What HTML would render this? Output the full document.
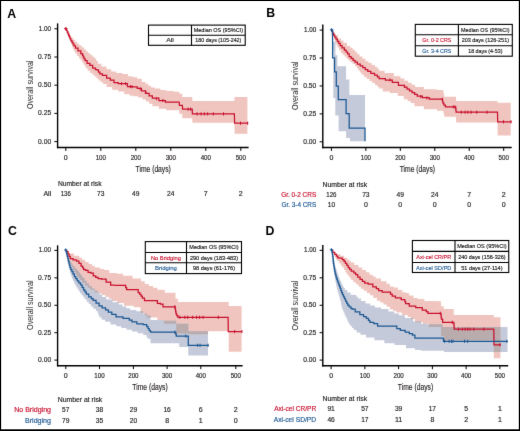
<!DOCTYPE html>
<html><head><meta charset="utf-8"><style>
html,body{margin:0;padding:0;background:#fff;}
body{width:520px;height:431px;overflow:hidden;font-family:"Liberation Sans",sans-serif;}
svg{display:block;}
#w{width:520px;height:431px;will-change:transform;}
</style></head><body><div id="w">
<svg width="520" height="431" viewBox="0 0 520 431" font-family="Liberation Sans, sans-serif">
<rect x="0" y="0" width="520" height="431" fill="#fff"/>
<defs><filter id="bl" x="0" y="0" width="520" height="431" filterUnits="userSpaceOnUse" color-interpolation-filters="sRGB"><feConvolveMatrix order="3" kernelMatrix="0.0052 0.0619 0.0052 0.0619 0.7314 0.0619 0.0052 0.0619 0.0052" edgeMode="duplicate"/></filter></defs>
<g filter="url(#bl)"><rect x="0" y="0" width="520" height="431" fill="#fff"/>
<text x="7.3" y="17.6" font-size="12.3" fill="#000" text-anchor="start" font-weight="bold">A</text>
<polygon points="66,28.8 67.15,28.8 67.15,31 68.3,31 68.88,31 68.88,33.17 70.05,33.17 70.05,35.33 71.22,35.33 71.22,37.5 71.8,37.5 72.83,37.5 72.83,39.6 74.88,39.6 74.88,41.7 75.9,41.7 76.95,41.7 76.95,43.45 79.05,43.45 79.05,45.2 80.1,45.2 81.5,45.2 81.5,47.3 82.9,47.3 83.95,47.3 83.95,49.4 86.05,49.4 86.05,51.5 87.1,51.5 88.15,51.5 88.15,53.25 90.25,53.25 90.25,55 91.3,55 92.33,55 92.33,56.7 94.38,56.7 94.38,58.4 95.4,58.4 96.23,58.4 96.23,61.05 97.88,61.05 97.88,63.7 98.7,63.7 101.5,63.7 101.5,66.5 104.3,66.5 106.6,66.5 106.6,69.3 108.9,69.3 111.25,69.3 111.25,71.6 113.6,71.6 116.35,71.6 116.35,73 119.1,73 122.35,73 122.35,73.9 125.6,73.9 127.95,73.9 127.95,76.2 130.3,76.2 132.65,76.2 132.65,77.2 135,77.2 137.2,77.2 137.2,78.7 139.4,78.7 141.8,78.7 141.8,81.9 144.2,81.9 145.57,81.9 145.57,83.8 148.3,83.8 148.3,85.7 151.03,85.7 151.03,87.6 152.4,87.6 154.8,87.6 154.8,88.4 157.2,88.4 160.45,88.4 160.45,90 163.7,90 166.15,90 166.15,90.9 168.6,90.9 173.9,90.9 173.9,91.7 179.2,91.7 179.4,93.8 182.2,93.8 182.4,97.1 192.2,97.1 192.4,101.1 234.4,101.1 234.6,97.1 247.4,97.1 247.4,133.7 234.6,133.7 234.4,122.8 192.4,122.8 192.2,118.2 182.4,118.2 182.2,114.1 179.4,114.1 179.2,110.3 168.6,110.3 166.15,110.3 166.15,108.7 163.7,108.7 158.85,108.7 158.85,106.3 154,106.3 152.38,106.3 152.38,103.85 149.12,103.85 149.12,101.4 147.5,101.4 145.88,101.4 145.88,99.4 142.62,99.4 142.62,97.4 141,97.4 138,97.4 138,96.2 135,96.2 133.55,96.2 133.55,95.7 132.1,95.7 129.8,95.7 129.8,94.3 127.5,94.3 124.25,94.3 124.25,91.6 121,91.6 118.2,91.6 118.2,89.7 115.4,89.7 112.15,89.7 112.15,86.9 108.9,86.9 106.6,86.9 106.6,84.1 104.3,84.1 103.12,84.1 103.12,82.25 100.77,82.25 100.77,80.4 99.6,80.4 98.55,80.4 98.55,78.5 96.45,78.5 96.45,76.6 95.4,76.6 94.38,76.6 94.38,74.85 92.33,74.85 92.33,73.1 91.3,73.1 90.08,73.1 90.08,70.65 87.62,70.65 87.62,68.2 86.4,68.2 85.82,68.2 85.82,66.33 84.65,66.33 84.65,64.47 83.48,64.47 83.48,62.6 82.9,62.6 82.2,62.6 82.2,60.5 80.8,60.5 80.8,58.4 80.1,58.4 79.05,58.4 79.05,56 76.95,56 76.95,53.6 75.9,53.6 75.2,53.6 75.2,51.15 73.8,51.15 73.8,48.7 73.1,48.7 72.76,48.7 72.76,46.78 72.09,46.78 72.09,44.85 71.41,44.85 71.41,42.92 70.74,42.92 70.74,41 70.4,41 69.93,41 69.93,38.93 69,38.93 69,36.87 68.07,36.87 68.07,34.8 67.6,34.8 67.33,34.8 67.33,32.8 66.8,32.8 66.8,30.8 66.27,30.8 66.27,28.8 66,28.8" fill="#f0c5bf" stroke="none"/>
<polyline points="66,28.8 66.4,28.8 66.4,30.4 67.2,30.4 67.2,32 67.6,32 67.95,32 67.95,33.75 68.65,33.75 68.65,35.5 69,35.5 69.35,35.5 69.35,37.2 70.05,37.2 70.05,38.9 70.4,38.9 70.93,38.9 70.93,40.65 71.97,40.65 71.97,42.4 72.5,42.4 73,42.4 73,44.15 74,44.15 74,45.9 74.5,45.9 75.55,45.9 75.55,48 76.6,48 78,48 78,50.8 79.4,50.8 80.8,50.8 80.8,53.6 82.2,53.6 82.55,53.6 82.55,55.35 83.25,55.35 83.25,57.1 83.6,57.1 84.12,57.1 84.12,58.8 85.17,58.8 85.17,60.5 85.7,60.5 87.1,60.5 87.1,63.3 88.5,63.3 89.9,63.3 89.9,65.4 91.3,65.4 92.7,65.4 92.7,68.2 94.1,68.2 95.45,68.2 95.45,69.6 96.8,69.6 97.3,69.6 97.3,70.2 97.8,70.2 98.5,70.2 98.5,72.05 99.9,72.05 99.9,73.9 100.6,73.9 102.45,73.9 102.45,75.3 104.3,75.3 106.6,75.3 106.6,78.1 108.9,78.1 110.3,78.1 110.3,80 111.7,80 114,80 114,82.7 116.3,82.7 118.2,82.7 118.2,83.7 120.1,83.7 125.6,83.7 127.45,83.7 127.45,86.5 129.3,86.5 132.15,86.5 132.15,86.9 135,86.9 137.2,86.9 137.2,88.4 139.4,88.4 141.43,88.4 141.43,90.85 145.47,90.85 145.47,93.3 147.5,93.3 149.12,93.3 149.12,95.75 152.38,95.75 152.38,98.2 154,98.2 158.85,98.2 158.85,100.6 163.7,100.6 165.35,100.6 165.35,102.2 167,102.2 179.2,102.2 179.4,105.3 182.4,105.3 182.6,109.2 192.2,109.2 192.4,113.9 234.4,113.9 234.6,123.2 248.2,123.2" fill="none" stroke="#c8102e" stroke-width="1.25" stroke-linejoin="miter"/>
<path d="M64.2 28.6H67.4M65.8 27V30.2" stroke="#c8102e" stroke-width="1.1" fill="none"/>
<line x1="188.1" y1="107.6" x2="188.1" y2="110.8" stroke="#c8102e" stroke-width="1"/>
<line x1="190.6" y1="107.6" x2="190.6" y2="110.8" stroke="#c8102e" stroke-width="1"/>
<line x1="121.5" y1="82.2" x2="121.5" y2="85.2" stroke="#c8102e" stroke-width="1"/>
<line x1="125.6" y1="82.2" x2="125.6" y2="85.2" stroke="#c8102e" stroke-width="1"/>
<line x1="130.4" y1="85.08" x2="130.4" y2="88.08" stroke="#c8102e" stroke-width="1"/>
<line x1="132" y1="85.19" x2="132" y2="88.19" stroke="#c8102e" stroke-width="1"/>
<line x1="140.2" y1="87.38" x2="140.2" y2="90.38" stroke="#c8102e" stroke-width="1"/>
<line x1="145.9" y1="90.83" x2="145.9" y2="93.83" stroke="#c8102e" stroke-width="1"/>
<line x1="156.4" y1="97.29" x2="156.4" y2="100.29" stroke="#c8102e" stroke-width="1"/>
<line x1="162.9" y1="98.9" x2="162.9" y2="101.9" stroke="#c8102e" stroke-width="1"/>
<line x1="197" y1="112.3" x2="197" y2="115.5" stroke="#c8102e" stroke-width="1"/>
<line x1="201.1" y1="112.3" x2="201.1" y2="115.5" stroke="#c8102e" stroke-width="1"/>
<line x1="204.4" y1="112.3" x2="204.4" y2="115.5" stroke="#c8102e" stroke-width="1"/>
<line x1="207.6" y1="112.3" x2="207.6" y2="115.5" stroke="#c8102e" stroke-width="1"/>
<line x1="213.3" y1="112.3" x2="213.3" y2="115.5" stroke="#c8102e" stroke-width="1"/>
<line x1="223.5" y1="112.3" x2="223.5" y2="115.5" stroke="#c8102e" stroke-width="1"/>
<line x1="240.5" y1="121.6" x2="240.5" y2="124.8" stroke="#c8102e" stroke-width="1"/>
<line x1="247.6" y1="121.6" x2="247.6" y2="124.8" stroke="#c8102e" stroke-width="1"/>
<line x1="57.6" y1="23.4" x2="57.6" y2="148.15" stroke="#000" stroke-width="1.4"/>
<line x1="56.95" y1="147.5" x2="248.6" y2="147.5" stroke="#000" stroke-width="1.4"/>
<line x1="54.4" y1="28.8" x2="57.6" y2="28.8" stroke="#000" stroke-width="1"/>
<text x="51.1" y="30.7" font-size="7" fill="#231f20" text-anchor="end" font-weight="normal" textLength="12.3" lengthAdjust="spacingAndGlyphs" stroke="#231f20" stroke-width="0.17">1.00</text>
<line x1="54.4" y1="57" x2="57.6" y2="57" stroke="#000" stroke-width="1"/>
<text x="51.1" y="58.9" font-size="7" fill="#231f20" text-anchor="end" font-weight="normal" textLength="13" lengthAdjust="spacingAndGlyphs" stroke="#231f20" stroke-width="0.17">0.75</text>
<line x1="54.4" y1="85.2" x2="57.6" y2="85.2" stroke="#000" stroke-width="1"/>
<text x="51.1" y="87.1" font-size="7" fill="#231f20" text-anchor="end" font-weight="normal" textLength="13" lengthAdjust="spacingAndGlyphs" stroke="#231f20" stroke-width="0.17">0.50</text>
<line x1="54.4" y1="113.4" x2="57.6" y2="113.4" stroke="#000" stroke-width="1"/>
<text x="51.1" y="115.3" font-size="7" fill="#231f20" text-anchor="end" font-weight="normal" textLength="13" lengthAdjust="spacingAndGlyphs" stroke="#231f20" stroke-width="0.17">0.25</text>
<line x1="54.4" y1="141.6" x2="57.6" y2="141.6" stroke="#000" stroke-width="1"/>
<text x="51.1" y="143.5" font-size="7" fill="#231f20" text-anchor="end" font-weight="normal" textLength="13" lengthAdjust="spacingAndGlyphs" stroke="#231f20" stroke-width="0.17">0.00</text>
<line x1="65.8" y1="147.5" x2="65.8" y2="150.9" stroke="#000" stroke-width="1"/>
<text x="65.8" y="159.7" font-size="7" fill="#231f20" text-anchor="middle" font-weight="normal" stroke="#231f20" stroke-width="0.17">0</text>
<line x1="100.8" y1="147.5" x2="100.8" y2="150.9" stroke="#000" stroke-width="1"/>
<text x="100.8" y="159.7" font-size="7" fill="#231f20" text-anchor="middle" font-weight="normal" textLength="10.3" lengthAdjust="spacingAndGlyphs" stroke="#231f20" stroke-width="0.17">100</text>
<line x1="135.8" y1="147.5" x2="135.8" y2="150.9" stroke="#000" stroke-width="1"/>
<text x="135.8" y="159.7" font-size="7" fill="#231f20" text-anchor="middle" font-weight="normal" textLength="10.3" lengthAdjust="spacingAndGlyphs" stroke="#231f20" stroke-width="0.17">200</text>
<line x1="170.8" y1="147.5" x2="170.8" y2="150.9" stroke="#000" stroke-width="1"/>
<text x="170.8" y="159.7" font-size="7" fill="#231f20" text-anchor="middle" font-weight="normal" textLength="10.3" lengthAdjust="spacingAndGlyphs" stroke="#231f20" stroke-width="0.17">300</text>
<line x1="205.8" y1="147.5" x2="205.8" y2="150.9" stroke="#000" stroke-width="1"/>
<text x="205.8" y="159.7" font-size="7" fill="#231f20" text-anchor="middle" font-weight="normal" textLength="10.3" lengthAdjust="spacingAndGlyphs" stroke="#231f20" stroke-width="0.17">400</text>
<line x1="240.8" y1="147.5" x2="240.8" y2="150.9" stroke="#000" stroke-width="1"/>
<text x="240.8" y="159.7" font-size="7" fill="#231f20" text-anchor="middle" font-weight="normal" textLength="10.3" lengthAdjust="spacingAndGlyphs" stroke="#231f20" stroke-width="0.17">500</text>
<text transform="translate(32.9,84.8) rotate(-90)" font-size="9.3" fill="#231f20" text-anchor="middle" textLength="48.5" lengthAdjust="spacingAndGlyphs">Overall survival</text>
<text x="153.2" y="172" font-size="9.3" fill="#231f20" text-anchor="middle" font-weight="normal" textLength="35.3" lengthAdjust="spacingAndGlyphs" stroke="#231f20" stroke-width="0.17">Time (days)</text>
<rect x="148.5" y="25.1" width="96.7" height="20.2" fill="#fff" stroke="#000" stroke-width="1.1"/>
<line x1="148.5" y1="35.3" x2="245.2" y2="35.3" stroke="#000" stroke-width="1.1"/>
<line x1="191.5" y1="25.1" x2="191.5" y2="45.3" stroke="#000" stroke-width="1.1"/>
<text x="218.35" y="32.35" font-size="5.9" fill="#111" text-anchor="middle" font-weight="normal" textLength="49.3" lengthAdjust="spacingAndGlyphs" stroke="#111" stroke-width="0.14">Median OS (95%CI)</text>
<text x="170" y="42.45" font-size="5.9" fill="#231f20" text-anchor="middle" font-weight="normal" textLength="7.6" lengthAdjust="spacingAndGlyphs" stroke="#231f20" stroke-width="0.14">All</text>
<text x="218.35" y="42.45" font-size="5.9" fill="#111" text-anchor="middle" font-weight="normal" textLength="46" lengthAdjust="spacingAndGlyphs" stroke="#111" stroke-width="0.14">180 days (105-242)</text>
<text x="57.9" y="186.1" font-size="6.8" fill="#231f20" text-anchor="start" font-weight="normal" textLength="43.6" lengthAdjust="spacingAndGlyphs" stroke="#231f20" stroke-width="0.17">Number at risk</text>
<text x="51.2" y="196.4" font-size="7" fill="#231f20" text-anchor="end" font-weight="normal" textLength="7.8" lengthAdjust="spacingAndGlyphs" stroke="#231f20" stroke-width="0.17">All</text>
<text x="65.8" y="196.4" font-size="7" fill="#231f20" text-anchor="middle" font-weight="normal" textLength="10.2" lengthAdjust="spacingAndGlyphs" stroke="#231f20" stroke-width="0.17">136</text>
<text x="100.8" y="196.4" font-size="7" fill="#231f20" text-anchor="middle" font-weight="normal" textLength="7.4" lengthAdjust="spacingAndGlyphs" stroke="#231f20" stroke-width="0.17">73</text>
<text x="135.8" y="196.4" font-size="7" fill="#231f20" text-anchor="middle" font-weight="normal" textLength="7.4" lengthAdjust="spacingAndGlyphs" stroke="#231f20" stroke-width="0.17">49</text>
<text x="170.8" y="196.4" font-size="7" fill="#231f20" text-anchor="middle" font-weight="normal" textLength="7.4" lengthAdjust="spacingAndGlyphs" stroke="#231f20" stroke-width="0.17">24</text>
<text x="205.8" y="196.4" font-size="7" fill="#231f20" text-anchor="middle" font-weight="normal" stroke="#231f20" stroke-width="0.17">7</text>
<text x="240.8" y="196.4" font-size="7" fill="#231f20" text-anchor="middle" font-weight="normal" stroke="#231f20" stroke-width="0.17">2</text>
<text x="266.3" y="17.4" font-size="12.3" fill="#000" text-anchor="start" font-weight="bold">B</text>
<polygon points="331.3,30.1 331.9,30.1 331.9,30.6 332.5,30.6 333.43,30.6 333.43,32.95 335.27,32.95 335.27,35.3 336.2,35.3 338.05,35.3 338.05,38.5 339.9,38.5 341.07,38.5 341.07,40.6 343.43,40.6 343.43,42.7 344.6,42.7 346.9,42.7 346.9,46 349.2,46 350.38,46 350.38,47.85 352.72,47.85 352.72,49.7 353.9,49.7 354.9,49.7 354.9,51.85 356.9,51.85 356.9,54 357.9,54 359.43,54 359.43,56.4 362.5,56.4 362.5,58.8 365.57,58.8 365.57,61.2 367.1,61.2 368.65,61.2 368.65,63.07 371.75,63.07 371.75,64.93 374.85,64.93 374.85,66.8 376.4,66.8 377.3,66.8 377.3,68.8 379.1,68.8 379.1,70.8 380,70.8 384.6,70.8 384.6,73.1 389.2,73.1 393.85,73.1 393.85,76.2 398.5,76.2 400.43,76.2 400.43,78.5 404.27,78.5 404.27,80.8 406.2,80.8 407.98,80.8 407.98,82.83 411.55,82.83 411.55,84.87 415.12,84.87 415.12,86.9 416.9,86.9 423.85,86.9 423.85,89.2 430.8,89.2 436.95,89.2 436.95,90 443.1,90 443.33,90 443.33,92.27 443.8,92.27 443.8,94.53 444.27,94.53 444.27,96.8 444.5,96.8 456,96.8 456.2,101.1 497.5,101.1 497.7,102.7 510.7,102.7 510.7,135.4 497.7,135.4 497.5,122.4 456.2,122.4 456,116.8 444.6,116.8 444.35,116.8 444.35,114.8 443.85,114.8 443.85,112.8 443.35,112.8 443.35,110.8 443.1,110.8 436.95,110.8 436.95,109.2 430.8,109.2 423.85,109.2 423.85,106.2 416.9,106.2 414.45,106.2 414.45,103 412,103 410.55,103 410.55,101.1 407.65,101.1 407.65,99.2 406.2,99.2 403.85,99.2 403.85,96 401.5,96 397.65,96 397.65,93.1 393.8,93.1 389.75,93.1 389.75,91.5 385.7,91.5 382.85,91.5 382.85,88.5 380,88.5 379.1,88.5 379.1,86.75 377.3,86.75 377.3,85 376.4,85 375.01,85 375.01,83 372.24,83 372.24,81 369.46,81 369.46,79 366.69,79 366.69,77 365.3,77 364.1,77 364.1,74.75 361.7,74.75 361.7,72.5 360.5,72.5 359.75,72.5 359.75,70.33 358.25,70.33 358.25,68.17 356.75,68.17 356.75,66 356,66 354.95,66 354.95,64.1 353.9,64.1 352.72,64.1 352.72,62.25 350.38,62.25 350.38,60.4 349.2,60.4 348.27,60.4 348.27,58.5 346.43,58.5 346.43,56.6 345.5,56.6 344.57,56.6 344.57,54.75 342.73,54.75 342.73,52.9 341.8,52.9 340.88,52.9 340.88,50.15 339.03,50.15 339.03,47.4 338.1,47.4 337.63,47.4 337.63,45.53 336.7,45.53 336.7,43.67 335.77,43.67 335.77,41.8 335.3,41.8 335.02,41.8 335.02,39.63 334.45,39.63 334.45,37.47 333.88,37.47 333.88,35.3 333.6,35.3 333.4,35.3 333.4,33 333.2,33 332.25,33 332.25,30.1 331.3,30.1" fill="#f0c5bf" stroke="none"/>
<polygon points="331.3,30.1 332.6,30.1 332.8,41.8 335.6,41.8 335.4,55.2 337.4,55.2 337.4,66.3 346.1,66.3 346.1,79.5 349.3,79.5 349.3,95.1 365,95.1 365,141.2 365,141.2 349.9,141.2 349.9,138.1 346.1,138.1 346.1,131.3 338.6,131.3 338.6,115.5 335.3,115.5 335.3,98 333.3,98 333.3,50 332.4,50 332.34,50 332.34,47.79 332.22,47.79 332.22,45.58 332.09,45.58 332.09,43.37 331.97,43.37 331.97,41.16 331.85,41.16 331.85,38.94 331.73,38.94 331.73,36.73 331.61,36.73 331.61,34.52 331.48,34.52 331.48,32.31 331.36,32.31 331.36,30.1 331.3,30.1" fill="#c4cada" stroke="none"/>
<clipPath id="clp1"><polygon points="331.3,30.1 331.9,30.1 331.9,30.6 332.5,30.6 333.43,30.6 333.43,32.95 335.27,32.95 335.27,35.3 336.2,35.3 338.05,35.3 338.05,38.5 339.9,38.5 341.07,38.5 341.07,40.6 343.43,40.6 343.43,42.7 344.6,42.7 346.9,42.7 346.9,46 349.2,46 350.38,46 350.38,47.85 352.72,47.85 352.72,49.7 353.9,49.7 354.9,49.7 354.9,51.85 356.9,51.85 356.9,54 357.9,54 359.43,54 359.43,56.4 362.5,56.4 362.5,58.8 365.57,58.8 365.57,61.2 367.1,61.2 368.65,61.2 368.65,63.07 371.75,63.07 371.75,64.93 374.85,64.93 374.85,66.8 376.4,66.8 377.3,66.8 377.3,68.8 379.1,68.8 379.1,70.8 380,70.8 384.6,70.8 384.6,73.1 389.2,73.1 393.85,73.1 393.85,76.2 398.5,76.2 400.43,76.2 400.43,78.5 404.27,78.5 404.27,80.8 406.2,80.8 407.98,80.8 407.98,82.83 411.55,82.83 411.55,84.87 415.12,84.87 415.12,86.9 416.9,86.9 423.85,86.9 423.85,89.2 430.8,89.2 436.95,89.2 436.95,90 443.1,90 443.33,90 443.33,92.27 443.8,92.27 443.8,94.53 444.27,94.53 444.27,96.8 444.5,96.8 456,96.8 456.2,101.1 497.5,101.1 497.7,102.7 510.7,102.7 510.7,135.4 497.7,135.4 497.5,122.4 456.2,122.4 456,116.8 444.6,116.8 444.35,116.8 444.35,114.8 443.85,114.8 443.85,112.8 443.35,112.8 443.35,110.8 443.1,110.8 436.95,110.8 436.95,109.2 430.8,109.2 423.85,109.2 423.85,106.2 416.9,106.2 414.45,106.2 414.45,103 412,103 410.55,103 410.55,101.1 407.65,101.1 407.65,99.2 406.2,99.2 403.85,99.2 403.85,96 401.5,96 397.65,96 397.65,93.1 393.8,93.1 389.75,93.1 389.75,91.5 385.7,91.5 382.85,91.5 382.85,88.5 380,88.5 379.1,88.5 379.1,86.75 377.3,86.75 377.3,85 376.4,85 375.01,85 375.01,83 372.24,83 372.24,81 369.46,81 369.46,79 366.69,79 366.69,77 365.3,77 364.1,77 364.1,74.75 361.7,74.75 361.7,72.5 360.5,72.5 359.75,72.5 359.75,70.33 358.25,70.33 358.25,68.17 356.75,68.17 356.75,66 356,66 354.95,66 354.95,64.1 353.9,64.1 352.72,64.1 352.72,62.25 350.38,62.25 350.38,60.4 349.2,60.4 348.27,60.4 348.27,58.5 346.43,58.5 346.43,56.6 345.5,56.6 344.57,56.6 344.57,54.75 342.73,54.75 342.73,52.9 341.8,52.9 340.88,52.9 340.88,50.15 339.03,50.15 339.03,47.4 338.1,47.4 337.63,47.4 337.63,45.53 336.7,45.53 336.7,43.67 335.77,43.67 335.77,41.8 335.3,41.8 335.02,41.8 335.02,39.63 334.45,39.63 334.45,37.47 333.88,37.47 333.88,35.3 333.6,35.3 333.4,35.3 333.4,33 333.2,33 332.25,33 332.25,30.1 331.3,30.1"/></clipPath>
<polygon points="331.3,30.1 332.6,30.1 332.8,41.8 335.6,41.8 335.4,55.2 337.4,55.2 337.4,66.3 346.1,66.3 346.1,79.5 349.3,79.5 349.3,95.1 365,95.1 365,141.2 365,141.2 349.9,141.2 349.9,138.1 346.1,138.1 346.1,131.3 338.6,131.3 338.6,115.5 335.3,115.5 335.3,98 333.3,98 333.3,50 332.4,50 332.34,50 332.34,47.79 332.22,47.79 332.22,45.58 332.09,45.58 332.09,43.37 331.97,43.37 331.97,41.16 331.85,41.16 331.85,38.94 331.73,38.94 331.73,36.73 331.61,36.73 331.61,34.52 331.48,34.52 331.48,32.31 331.36,32.31 331.36,30.1 331.3,30.1" fill="#baabad" clip-path="url(#clp1)"/>
<polyline points="331.3,30.1 331.65,30.1 331.65,31.1 332,31.1 332.55,31.1 332.55,33.1 333.65,33.1 333.65,35.1 334.75,35.1 334.75,37.1 335.3,37.1 336,37.1 336,39.2 337.4,39.2 337.4,41.3 338.8,41.3 338.8,43.4 340.2,43.4 340.2,45.5 340.9,45.5 342.05,45.5 342.05,47.8 344.35,47.8 344.35,50.1 345.5,50.1 346.2,50.1 346.2,52 347.6,52 347.6,53.9 348.3,53.9 349.2,53.9 349.2,56.6 350.1,56.6 351.08,56.6 351.08,58.47 353.05,58.47 353.05,60.33 355.02,60.33 355.02,62.2 356,62.2 357.4,62.2 357.4,64 360.2,64 360.2,65.8 361.6,65.8 362.83,65.8 362.83,67.67 365.3,67.67 365.3,69.53 367.77,69.53 367.77,71.4 369,71.4 370.85,71.4 370.85,73.25 374.55,73.25 374.55,75.1 376.4,75.1 377.3,75.1 377.3,76.8 379.1,76.8 379.1,78.5 380,78.5 385.4,78.5 385.4,80 390.8,80 392.3,80 392.3,82.3 393.8,82.3 398.45,82.3 398.45,85.4 403.1,85.4 404.38,85.4 404.38,87.2 406.95,87.2 406.95,89 409.52,89 409.52,90.8 410.8,90.8 412.08,90.8 412.08,92.6 414.65,92.6 414.65,94.4 417.22,94.4 417.22,96.2 418.5,96.2 422.35,96.2 422.35,97.7 426.2,97.7 429.25,97.7 429.25,99.2 432.3,99.2 442.3,99.2 442.5,99.2 442.5,101.15 442.9,101.15 442.9,103.1 443.1,103.1 443.88,103.1 443.88,105 445.43,105 445.43,106.9 446.2,106.9 455.6,106.9 455.7,106.9 455.7,108.67 455.9,108.67 455.9,110.43 456.1,110.43 456.1,112.2 456.2,112.2 497.5,112.2 497.7,121.8 511.5,121.8" fill="none" stroke="#c8102e" stroke-width="1.25" stroke-linejoin="miter"/>
<polyline points="331.3,30.1 332.6,30.1 332.6,57.9 334.6,57.9 334.6,71.8 336.3,71.8 336.3,86 338.3,86 338.3,99.6 346.1,99.6 346.1,113.5 349.2,113.5 349.2,128 365,128 365,141.2" fill="none" stroke="#1b5791" stroke-width="1.25" stroke-linejoin="miter"/>
<path d="M329.9 29.8H333.1M331.5 28.2V31.4" stroke="#1b5791" stroke-width="1.1" fill="none"/>
<line x1="390" y1="78.39" x2="390" y2="81.39" stroke="#c8102e" stroke-width="1"/>
<line x1="404.6" y1="84.95" x2="404.6" y2="87.95" stroke="#c8102e" stroke-width="1"/>
<line x1="420.8" y1="95.15" x2="420.8" y2="98.15" stroke="#c8102e" stroke-width="1"/>
<line x1="426.9" y1="96.37" x2="426.9" y2="99.37" stroke="#c8102e" stroke-width="1"/>
<line x1="442.3" y1="97.7" x2="442.3" y2="100.7" stroke="#c8102e" stroke-width="1"/>
<line x1="453.3" y1="105.4" x2="453.3" y2="108.4" stroke="#c8102e" stroke-width="1"/>
<line x1="454.8" y1="105.4" x2="454.8" y2="108.4" stroke="#c8102e" stroke-width="1"/>
<line x1="461.3" y1="110.6" x2="461.3" y2="113.8" stroke="#c8102e" stroke-width="1"/>
<line x1="465.1" y1="110.6" x2="465.1" y2="113.8" stroke="#c8102e" stroke-width="1"/>
<line x1="467.8" y1="110.6" x2="467.8" y2="113.8" stroke="#c8102e" stroke-width="1"/>
<line x1="471.1" y1="110.6" x2="471.1" y2="113.8" stroke="#c8102e" stroke-width="1"/>
<line x1="476.8" y1="110.6" x2="476.8" y2="113.8" stroke="#c8102e" stroke-width="1"/>
<line x1="487.1" y1="110.6" x2="487.1" y2="113.8" stroke="#c8102e" stroke-width="1"/>
<line x1="503.5" y1="120.2" x2="503.5" y2="123.4" stroke="#c8102e" stroke-width="1"/>
<line x1="511" y1="120.2" x2="511" y2="123.4" stroke="#c8102e" stroke-width="1"/>
<line x1="322.8" y1="24.6" x2="322.8" y2="148.2" stroke="#000" stroke-width="1.4"/>
<line x1="322.15" y1="147.55" x2="511.7" y2="147.55" stroke="#000" stroke-width="1.4"/>
<line x1="319.6" y1="30.1" x2="322.8" y2="30.1" stroke="#000" stroke-width="1"/>
<text x="316.3" y="32" font-size="7" fill="#231f20" text-anchor="end" font-weight="normal" textLength="12.3" lengthAdjust="spacingAndGlyphs" stroke="#231f20" stroke-width="0.17">1.00</text>
<line x1="319.6" y1="58.03" x2="322.8" y2="58.03" stroke="#000" stroke-width="1"/>
<text x="316.3" y="59.93" font-size="7" fill="#231f20" text-anchor="end" font-weight="normal" textLength="13" lengthAdjust="spacingAndGlyphs" stroke="#231f20" stroke-width="0.17">0.75</text>
<line x1="319.6" y1="85.95" x2="322.8" y2="85.95" stroke="#000" stroke-width="1"/>
<text x="316.3" y="87.85" font-size="7" fill="#231f20" text-anchor="end" font-weight="normal" textLength="13" lengthAdjust="spacingAndGlyphs" stroke="#231f20" stroke-width="0.17">0.50</text>
<line x1="319.6" y1="113.88" x2="322.8" y2="113.88" stroke="#000" stroke-width="1"/>
<text x="316.3" y="115.78" font-size="7" fill="#231f20" text-anchor="end" font-weight="normal" textLength="13" lengthAdjust="spacingAndGlyphs" stroke="#231f20" stroke-width="0.17">0.25</text>
<line x1="319.6" y1="141.8" x2="322.8" y2="141.8" stroke="#000" stroke-width="1"/>
<text x="316.3" y="143.7" font-size="7" fill="#231f20" text-anchor="end" font-weight="normal" textLength="13" lengthAdjust="spacingAndGlyphs" stroke="#231f20" stroke-width="0.17">0.00</text>
<line x1="331.4" y1="147.55" x2="331.4" y2="150.95" stroke="#000" stroke-width="1"/>
<text x="331.4" y="159.8" font-size="7" fill="#231f20" text-anchor="middle" font-weight="normal" stroke="#231f20" stroke-width="0.17">0</text>
<line x1="365.86" y1="147.55" x2="365.86" y2="150.95" stroke="#000" stroke-width="1"/>
<text x="365.86" y="159.8" font-size="7" fill="#231f20" text-anchor="middle" font-weight="normal" textLength="10.3" lengthAdjust="spacingAndGlyphs" stroke="#231f20" stroke-width="0.17">100</text>
<line x1="400.32" y1="147.55" x2="400.32" y2="150.95" stroke="#000" stroke-width="1"/>
<text x="400.32" y="159.8" font-size="7" fill="#231f20" text-anchor="middle" font-weight="normal" textLength="10.3" lengthAdjust="spacingAndGlyphs" stroke="#231f20" stroke-width="0.17">200</text>
<line x1="434.78" y1="147.55" x2="434.78" y2="150.95" stroke="#000" stroke-width="1"/>
<text x="434.78" y="159.8" font-size="7" fill="#231f20" text-anchor="middle" font-weight="normal" textLength="10.3" lengthAdjust="spacingAndGlyphs" stroke="#231f20" stroke-width="0.17">300</text>
<line x1="469.24" y1="147.55" x2="469.24" y2="150.95" stroke="#000" stroke-width="1"/>
<text x="469.24" y="159.8" font-size="7" fill="#231f20" text-anchor="middle" font-weight="normal" textLength="10.3" lengthAdjust="spacingAndGlyphs" stroke="#231f20" stroke-width="0.17">400</text>
<line x1="503.7" y1="147.55" x2="503.7" y2="150.95" stroke="#000" stroke-width="1"/>
<text x="503.7" y="159.8" font-size="7" fill="#231f20" text-anchor="middle" font-weight="normal" textLength="10.3" lengthAdjust="spacingAndGlyphs" stroke="#231f20" stroke-width="0.17">500</text>
<text transform="translate(298,85.8) rotate(-90)" font-size="9.3" fill="#231f20" text-anchor="middle" textLength="48.5" lengthAdjust="spacingAndGlyphs">Overall survival</text>
<text x="417.4" y="172" font-size="9.3" fill="#231f20" text-anchor="middle" font-weight="normal" textLength="35.3" lengthAdjust="spacingAndGlyphs" stroke="#231f20" stroke-width="0.17">Time (days)</text>
<rect x="415.3" y="24.4" width="97" height="31.8" fill="#fff" stroke="#000" stroke-width="1.1"/>
<line x1="415.3" y1="34.8" x2="512.3" y2="34.8" stroke="#000" stroke-width="1.1"/>
<line x1="415.3" y1="45.7" x2="512.3" y2="45.7" stroke="#000" stroke-width="1.1"/>
<line x1="458.4" y1="24.4" x2="458.4" y2="56.2" stroke="#000" stroke-width="1.1"/>
<text x="485.35" y="31.75" font-size="5.9" fill="#111" text-anchor="middle" font-weight="normal" textLength="48.5" lengthAdjust="spacingAndGlyphs" stroke="#111" stroke-width="0.14">Median OS (95%CI)</text>
<text x="436.85" y="42.4" font-size="5.9" fill="#c8102e" text-anchor="middle" font-weight="normal" textLength="29.1" lengthAdjust="spacingAndGlyphs" stroke="#c8102e" stroke-width="0.14">Gr. 0-2 CRS</text>
<text x="485.35" y="42.4" font-size="5.9" fill="#111" text-anchor="middle" font-weight="normal" textLength="47.3" lengthAdjust="spacingAndGlyphs" stroke="#111" stroke-width="0.14">203 days (126-251)</text>
<text x="436.85" y="53.1" font-size="5.9" fill="#1b5791" text-anchor="middle" font-weight="normal" textLength="29.1" lengthAdjust="spacingAndGlyphs" stroke="#1b5791" stroke-width="0.14">Gr. 3-4 CRS</text>
<text x="485.35" y="53.1" font-size="5.9" fill="#111" text-anchor="middle" font-weight="normal" textLength="34.2" lengthAdjust="spacingAndGlyphs" stroke="#111" stroke-width="0.14">18 days (4-53)</text>
<text x="322.5" y="186.6" font-size="6.8" fill="#231f20" text-anchor="start" font-weight="normal" textLength="44.6" lengthAdjust="spacingAndGlyphs" stroke="#231f20" stroke-width="0.17">Number at risk</text>
<text x="316.2" y="196.8" font-size="7" fill="#c8102e" text-anchor="end" font-weight="normal" textLength="35" lengthAdjust="spacingAndGlyphs" stroke="#c8102e" stroke-width="0.17">Gr. 0-2 CRS</text>
<text x="316.2" y="207.4" font-size="7" fill="#1b5791" text-anchor="end" font-weight="normal" textLength="34.7" lengthAdjust="spacingAndGlyphs" stroke="#1b5791" stroke-width="0.17">Gr. 3-4 CRS</text>
<text x="331.4" y="196.8" font-size="7" fill="#231f20" text-anchor="middle" font-weight="normal" textLength="10.2" lengthAdjust="spacingAndGlyphs" stroke="#231f20" stroke-width="0.17">126</text>
<text x="331.4" y="207.4" font-size="7" fill="#231f20" text-anchor="middle" font-weight="normal" textLength="7.4" lengthAdjust="spacingAndGlyphs" stroke="#231f20" stroke-width="0.17">10</text>
<text x="365.86" y="196.8" font-size="7" fill="#231f20" text-anchor="middle" font-weight="normal" textLength="7.4" lengthAdjust="spacingAndGlyphs" stroke="#231f20" stroke-width="0.17">73</text>
<text x="365.86" y="207.4" font-size="7" fill="#231f20" text-anchor="middle" font-weight="normal" stroke="#231f20" stroke-width="0.17">0</text>
<text x="400.32" y="196.8" font-size="7" fill="#231f20" text-anchor="middle" font-weight="normal" textLength="7.4" lengthAdjust="spacingAndGlyphs" stroke="#231f20" stroke-width="0.17">49</text>
<text x="400.32" y="207.4" font-size="7" fill="#231f20" text-anchor="middle" font-weight="normal" stroke="#231f20" stroke-width="0.17">0</text>
<text x="434.78" y="196.8" font-size="7" fill="#231f20" text-anchor="middle" font-weight="normal" textLength="7.4" lengthAdjust="spacingAndGlyphs" stroke="#231f20" stroke-width="0.17">24</text>
<text x="434.78" y="207.4" font-size="7" fill="#231f20" text-anchor="middle" font-weight="normal" stroke="#231f20" stroke-width="0.17">0</text>
<text x="469.24" y="196.8" font-size="7" fill="#231f20" text-anchor="middle" font-weight="normal" stroke="#231f20" stroke-width="0.17">7</text>
<text x="469.24" y="207.4" font-size="7" fill="#231f20" text-anchor="middle" font-weight="normal" stroke="#231f20" stroke-width="0.17">0</text>
<text x="503.7" y="196.8" font-size="7" fill="#231f20" text-anchor="middle" font-weight="normal" stroke="#231f20" stroke-width="0.17">2</text>
<text x="503.7" y="207.4" font-size="7" fill="#231f20" text-anchor="middle" font-weight="normal" stroke="#231f20" stroke-width="0.17">0</text>
<text x="7.9" y="235.2" font-size="12.3" fill="#000" text-anchor="start" font-weight="bold">C</text>
<polygon points="65.6,250.4 67.95,250.4 67.95,253.6 70.3,253.6 74.1,253.6 74.1,255.7 77.9,255.7 79.3,255.7 79.3,257.75 82.1,257.75 82.1,259.8 83.5,259.8 85.25,259.8 85.25,261.9 88.75,261.9 88.75,264 90.5,264 91.9,264 91.9,265.75 94.7,265.75 94.7,267.5 96.1,267.5 100.05,267.5 100.05,268.9 104,268.9 104.3,268.9 104.3,270.1 104.6,270.1 109.25,270.1 109.25,272.9 113.9,272.9 116.95,272.9 116.95,273.8 120,273.8 123.05,273.8 123.05,275.8 126.1,275.8 132.6,275.8 132.6,278.6 139.1,278.6 140.97,278.6 140.97,281.35 144.72,281.35 144.72,284.1 146.6,284.1 148.77,284.1 148.77,285.97 153.1,285.97 153.1,287.83 157.43,287.83 157.43,289.7 159.6,289.7 164.8,289.7 164.8,292.8 170,292.8 175.5,292.8 175.5,298.7 177.9,298.7 177.9,302.1 228.7,302.1 228.7,306 241.6,306 241.6,351.8 228.7,351.8 228.7,331.2 208,331.2 208,334.2 188.3,334.2 188.3,333.5 176.2,333.5 176.2,323.7 164.1,323.7 164.1,319.9 157.4,319.9 157.4,317.6 147.5,317.6 146.57,317.6 146.57,315.3 144.73,315.3 144.73,313 143.8,313 142.2,313 142.2,312.4 140.6,312.4 140.4,307.2 133.8,307.2 133.8,305.8 127.2,305.8 124.05,305.8 124.05,303 120.9,303 117.4,303 117.4,300.9 113.9,300.9 112.18,300.9 112.18,298.8 108.72,298.8 108.72,296.7 107,296.7 105.25,296.7 105.25,294.95 101.75,294.95 101.75,293.2 100,293.2 98.7,293.2 98.7,292.6 97.4,292.6 94.65,292.6 94.65,289.8 91.9,289.8 90.5,289.8 90.5,287.7 87.7,287.7 87.7,285.6 86.3,285.6 84.9,285.6 84.9,282.85 82.1,282.85 82.1,280.1 80.7,280.1 80,280.1 80,278.23 78.6,278.23 78.6,276.37 77.2,276.37 77.2,274.5 76.5,274.5 75.82,274.5 75.82,272.17 74.45,272.17 74.45,269.83 73.08,269.83 73.08,267.5 72.4,267.5 71.93,267.5 71.93,265.63 71,265.63 71,263.77 70.07,263.77 70.07,261.9 69.6,261.9 69.25,261.9 69.25,259.6 68.55,259.6 68.55,257.3 67.85,257.3 67.85,255 67.5,255 67.03,255 67.03,252.7 66.07,252.7 66.07,250.4 65.6,250.4" fill="#f0c5bf" stroke="none"/>
<polygon points="65.6,250.4 66.2,250.4 66.2,252.2 66.8,252.2 67.15,252.2 67.15,254.27 67.85,254.27 67.85,256.35 68.55,256.35 68.55,258.43 69.25,258.43 69.25,260.5 69.6,260.5 70.3,260.5 70.3,262.6 71.7,262.6 71.7,264.7 72.4,264.7 73.25,264.7 73.25,266.45 74.95,266.45 74.95,268.2 75.8,268.2 76.67,268.2 76.67,270.3 78.42,270.3 78.42,272.4 79.3,272.4 80,272.4 80,274.27 81.4,274.27 81.4,276.13 82.8,276.13 82.8,278 83.5,278 84.55,278 84.55,280.75 86.65,280.75 86.65,283.5 87.7,283.5 89.1,283.5 89.1,285.95 91.9,285.95 91.9,288.4 93.3,288.4 94.67,288.4 94.67,290.5 97.42,290.5 97.42,292.6 98.8,292.6 99.4,292.6 99.4,294.6 100,294.6 102.1,294.6 102.1,297.05 106.3,297.05 106.3,299.5 108.4,299.5 112.55,299.5 112.55,302.3 116.7,302.3 118.62,302.3 118.62,304.4 122.48,304.4 122.48,306.5 124.4,306.5 126.3,306.5 126.3,308.25 130.1,308.25 130.1,310 132,310 136.2,310 136.2,311.3 140.4,311.3 143.2,311.3 143.2,313.5 146,313.5 146.75,313.5 146.75,315.4 147.5,315.4 150.6,315.4 150.6,319.9 164.1,319.9 164.1,320.7 176.2,320.7 176.2,323.7 188.3,323.7 188.3,331.2 208,331.2 208,355.4 188.3,355.4 188.3,347.1 179.2,347.1 179.2,343.3 150.5,343.3 150.5,338.8 148,338.8 147.5,338.8 147.5,336.9 146.5,336.9 146.5,335 146,335 143.2,335 143.2,333.25 137.6,333.25 137.6,331.5 134.8,331.5 132.03,331.5 132.03,329.75 126.48,329.75 126.48,328 123.7,328 121.25,328 121.25,326.3 116.35,326.3 116.35,324.6 113.9,324.6 110.45,324.6 110.45,321.8 107,321.8 105.25,321.8 105.25,319.7 101.75,319.7 101.75,317.6 100,317.6 99.53,317.6 99.53,315.4 98.6,315.4 98.6,313.2 97.67,313.2 97.67,311 97.2,311 95.88,311 95.88,308.75 93.23,308.75 93.23,306.5 91.9,306.5 90.85,306.5 90.85,304.1 88.75,304.1 88.75,301.7 87.7,301.7 86.65,301.7 86.65,299.25 84.55,299.25 84.55,296.8 83.5,296.8 82.8,296.8 82.8,294.93 81.4,294.93 81.4,293.07 80,293.07 80,291.2 79.3,291.2 78.72,291.2 78.72,289.33 77.55,289.33 77.55,287.47 76.38,287.47 76.38,285.6 75.8,285.6 75.23,285.6 75.23,283.3 74.1,283.3 74.1,281 72.97,281 72.97,278.7 72.4,278.7 72.05,278.7 72.05,276.6 71.35,276.6 71.35,274.5 70.65,274.5 70.65,272.4 69.95,272.4 69.95,270.3 69.6,270.3 69.34,270.3 69.34,268.2 68.81,268.2 68.81,266.1 68.29,266.1 68.29,264 67.76,264 67.76,261.9 67.5,261.9 67.33,261.9 67.33,259.82 66.97,259.82 66.97,257.75 66.62,257.75 66.62,255.67 66.27,255.67 66.27,253.6 66.1,253.6 65.85,253.6 65.85,250.4 65.6,250.4" fill="#c4cada" stroke="none"/>
<clipPath id="clp2"><polygon points="65.6,250.4 67.95,250.4 67.95,253.6 70.3,253.6 74.1,253.6 74.1,255.7 77.9,255.7 79.3,255.7 79.3,257.75 82.1,257.75 82.1,259.8 83.5,259.8 85.25,259.8 85.25,261.9 88.75,261.9 88.75,264 90.5,264 91.9,264 91.9,265.75 94.7,265.75 94.7,267.5 96.1,267.5 100.05,267.5 100.05,268.9 104,268.9 104.3,268.9 104.3,270.1 104.6,270.1 109.25,270.1 109.25,272.9 113.9,272.9 116.95,272.9 116.95,273.8 120,273.8 123.05,273.8 123.05,275.8 126.1,275.8 132.6,275.8 132.6,278.6 139.1,278.6 140.97,278.6 140.97,281.35 144.72,281.35 144.72,284.1 146.6,284.1 148.77,284.1 148.77,285.97 153.1,285.97 153.1,287.83 157.43,287.83 157.43,289.7 159.6,289.7 164.8,289.7 164.8,292.8 170,292.8 175.5,292.8 175.5,298.7 177.9,298.7 177.9,302.1 228.7,302.1 228.7,306 241.6,306 241.6,351.8 228.7,351.8 228.7,331.2 208,331.2 208,334.2 188.3,334.2 188.3,333.5 176.2,333.5 176.2,323.7 164.1,323.7 164.1,319.9 157.4,319.9 157.4,317.6 147.5,317.6 146.57,317.6 146.57,315.3 144.73,315.3 144.73,313 143.8,313 142.2,313 142.2,312.4 140.6,312.4 140.4,307.2 133.8,307.2 133.8,305.8 127.2,305.8 124.05,305.8 124.05,303 120.9,303 117.4,303 117.4,300.9 113.9,300.9 112.18,300.9 112.18,298.8 108.72,298.8 108.72,296.7 107,296.7 105.25,296.7 105.25,294.95 101.75,294.95 101.75,293.2 100,293.2 98.7,293.2 98.7,292.6 97.4,292.6 94.65,292.6 94.65,289.8 91.9,289.8 90.5,289.8 90.5,287.7 87.7,287.7 87.7,285.6 86.3,285.6 84.9,285.6 84.9,282.85 82.1,282.85 82.1,280.1 80.7,280.1 80,280.1 80,278.23 78.6,278.23 78.6,276.37 77.2,276.37 77.2,274.5 76.5,274.5 75.82,274.5 75.82,272.17 74.45,272.17 74.45,269.83 73.08,269.83 73.08,267.5 72.4,267.5 71.93,267.5 71.93,265.63 71,265.63 71,263.77 70.07,263.77 70.07,261.9 69.6,261.9 69.25,261.9 69.25,259.6 68.55,259.6 68.55,257.3 67.85,257.3 67.85,255 67.5,255 67.03,255 67.03,252.7 66.07,252.7 66.07,250.4 65.6,250.4"/></clipPath>
<polygon points="65.6,250.4 66.2,250.4 66.2,252.2 66.8,252.2 67.15,252.2 67.15,254.27 67.85,254.27 67.85,256.35 68.55,256.35 68.55,258.43 69.25,258.43 69.25,260.5 69.6,260.5 70.3,260.5 70.3,262.6 71.7,262.6 71.7,264.7 72.4,264.7 73.25,264.7 73.25,266.45 74.95,266.45 74.95,268.2 75.8,268.2 76.67,268.2 76.67,270.3 78.42,270.3 78.42,272.4 79.3,272.4 80,272.4 80,274.27 81.4,274.27 81.4,276.13 82.8,276.13 82.8,278 83.5,278 84.55,278 84.55,280.75 86.65,280.75 86.65,283.5 87.7,283.5 89.1,283.5 89.1,285.95 91.9,285.95 91.9,288.4 93.3,288.4 94.67,288.4 94.67,290.5 97.42,290.5 97.42,292.6 98.8,292.6 99.4,292.6 99.4,294.6 100,294.6 102.1,294.6 102.1,297.05 106.3,297.05 106.3,299.5 108.4,299.5 112.55,299.5 112.55,302.3 116.7,302.3 118.62,302.3 118.62,304.4 122.48,304.4 122.48,306.5 124.4,306.5 126.3,306.5 126.3,308.25 130.1,308.25 130.1,310 132,310 136.2,310 136.2,311.3 140.4,311.3 143.2,311.3 143.2,313.5 146,313.5 146.75,313.5 146.75,315.4 147.5,315.4 150.6,315.4 150.6,319.9 164.1,319.9 164.1,320.7 176.2,320.7 176.2,323.7 188.3,323.7 188.3,331.2 208,331.2 208,355.4 188.3,355.4 188.3,347.1 179.2,347.1 179.2,343.3 150.5,343.3 150.5,338.8 148,338.8 147.5,338.8 147.5,336.9 146.5,336.9 146.5,335 146,335 143.2,335 143.2,333.25 137.6,333.25 137.6,331.5 134.8,331.5 132.03,331.5 132.03,329.75 126.48,329.75 126.48,328 123.7,328 121.25,328 121.25,326.3 116.35,326.3 116.35,324.6 113.9,324.6 110.45,324.6 110.45,321.8 107,321.8 105.25,321.8 105.25,319.7 101.75,319.7 101.75,317.6 100,317.6 99.53,317.6 99.53,315.4 98.6,315.4 98.6,313.2 97.67,313.2 97.67,311 97.2,311 95.88,311 95.88,308.75 93.23,308.75 93.23,306.5 91.9,306.5 90.85,306.5 90.85,304.1 88.75,304.1 88.75,301.7 87.7,301.7 86.65,301.7 86.65,299.25 84.55,299.25 84.55,296.8 83.5,296.8 82.8,296.8 82.8,294.93 81.4,294.93 81.4,293.07 80,293.07 80,291.2 79.3,291.2 78.72,291.2 78.72,289.33 77.55,289.33 77.55,287.47 76.38,287.47 76.38,285.6 75.8,285.6 75.23,285.6 75.23,283.3 74.1,283.3 74.1,281 72.97,281 72.97,278.7 72.4,278.7 72.05,278.7 72.05,276.6 71.35,276.6 71.35,274.5 70.65,274.5 70.65,272.4 69.95,272.4 69.95,270.3 69.6,270.3 69.34,270.3 69.34,268.2 68.81,268.2 68.81,266.1 68.29,266.1 68.29,264 67.76,264 67.76,261.9 67.5,261.9 67.33,261.9 67.33,259.82 66.97,259.82 66.97,257.75 66.62,257.75 66.62,255.67 66.27,255.67 66.27,253.6 66.1,253.6 65.85,253.6 65.85,250.4 65.6,250.4" fill="#baabad" clip-path="url(#clp2)"/>
<polyline points="65.6,250.4 66.55,250.4 66.55,251.5 67.5,251.5 68.03,251.5 68.03,253.95 69.07,253.95 69.07,256.4 69.6,256.4 70.3,256.4 70.3,258.5 71,258.5 73.05,258.5 73.05,259.8 75.1,259.8 76.5,259.8 76.5,261.2 77.9,261.2 78.95,261.2 78.95,263.3 80,263.3 81.05,263.3 81.05,266.1 82.1,266.1 82.62,266.1 82.62,267.85 83.67,267.85 83.67,269.6 84.2,269.6 85.6,269.6 85.6,270.3 87,270.3 88.05,270.3 88.05,272.4 89.1,272.4 90.85,272.4 90.85,273.1 92.6,273.1 93.3,273.1 93.3,275.9 94,275.9 95.7,275.9 95.7,277.3 97.4,277.3 98.1,277.3 98.1,278.7 98.8,278.7 101.4,278.7 101.4,279.2 104,279.2 106.15,279.2 106.15,282.2 108.3,282.2 110.65,282.2 110.65,285 113,285 115.7,285.3 125.2,285.3 125.67,285.3 125.67,287.5 126.62,287.5 126.62,289.7 127.1,289.7 137.3,289.7 138.2,289.7 138.2,292.5 139.1,292.5 139.75,292.5 139.75,294.33 141.05,294.33 141.05,296.17 142.35,296.17 142.35,298 143,298 144.5,298 144.5,300.7 146,300.7 156.6,300.7 157.35,300.7 157.35,303.3 158.1,303.3 160.35,303.3 160.35,304.1 162.6,304.1 163,304.1 163,306.8 163.4,306.8 175,306.8 175.2,306.8 175.2,309.17 175.6,309.17 175.6,311.53 176,311.53 176,313.9 176.2,313.9 176.77,313.9 176.77,315.6 177.93,315.6 177.93,317.3 178.5,317.3 228.1,317.3 228.3,331.6 241.9,331.6" fill="none" stroke="#c8102e" stroke-width="1.25" stroke-linejoin="miter"/>
<polyline points="65.6,250.4 66.1,250.6 66.33,250.6 66.33,252.53 66.8,252.53 66.8,254.47 67.27,254.47 67.27,256.4 67.5,256.4 67.73,256.4 67.73,258.23 68.2,258.23 68.2,260.07 68.67,260.07 68.67,261.9 68.9,261.9 69.13,261.9 69.13,263.77 69.6,263.77 69.6,265.63 70.07,265.63 70.07,267.5 70.3,267.5 70.83,267.5 70.83,269.6 71.88,269.6 71.88,271.7 72.4,271.7 73.08,271.7 73.08,274.15 74.42,274.15 74.42,276.6 75.1,276.6 75.8,276.6 75.8,278.7 77.2,278.7 77.2,280.8 77.9,280.8 78.78,280.8 78.78,282.85 80.53,282.85 80.53,284.9 81.4,284.9 82.1,284.9 82.1,287.35 83.5,287.35 83.5,289.8 84.2,289.8 84.9,289.8 84.9,291.9 86.3,291.9 86.3,294 87,294 88.75,294 88.75,296.8 90.5,296.8 91.38,296.8 91.38,298.55 93.12,298.55 93.12,300.3 94,300.3 96.05,300.3 96.05,303.1 98.1,303.1 99.05,303.1 99.05,305.8 100,305.8 102.1,305.8 102.1,307.9 104.2,307.9 105.58,307.9 105.58,309.95 108.33,309.95 108.33,312 109.7,312 111.8,312 111.8,314.45 116,314.45 116,316.9 118.1,316.9 123,316.9 123,318.3 127.9,318.3 129.28,318.3 129.28,320.05 132.03,320.05 132.03,321.8 133.4,321.8 136.9,321.8 136.9,323.9 140.4,323.9 143.2,323.9 143.2,324.6 146,324.6 146.75,324.6 146.75,326.7 147.5,326.7 148.07,326.7 148.07,328.6 149.23,328.6 149.23,330.5 149.8,330.5 150.55,330.5 150.55,332.1 151.3,332.1 175.5,332.1 175.75,332.1 175.75,334.05 176.25,334.05 176.25,336 176.5,336 188.3,336 188.3,345.3 208.7,345.3" fill="none" stroke="#1b5791" stroke-width="1.25" stroke-linejoin="miter"/>
<path d="M64.1 250H67.3M65.7 248.4V251.6" stroke="#1b5791" stroke-width="1.1" fill="none"/>
<line x1="174.9" y1="305.2" x2="174.9" y2="308.4" stroke="#c8102e" stroke-width="1"/>
<line x1="179.9" y1="315.7" x2="179.9" y2="318.9" stroke="#c8102e" stroke-width="1"/>
<line x1="184.8" y1="315.7" x2="184.8" y2="318.9" stroke="#c8102e" stroke-width="1"/>
<line x1="187.7" y1="315.7" x2="187.7" y2="318.9" stroke="#c8102e" stroke-width="1"/>
<line x1="192.7" y1="315.7" x2="192.7" y2="318.9" stroke="#c8102e" stroke-width="1"/>
<line x1="196.6" y1="315.7" x2="196.6" y2="318.9" stroke="#c8102e" stroke-width="1"/>
<line x1="199.6" y1="315.7" x2="199.6" y2="318.9" stroke="#c8102e" stroke-width="1"/>
<line x1="203.1" y1="315.7" x2="203.1" y2="318.9" stroke="#c8102e" stroke-width="1"/>
<line x1="218.3" y1="315.7" x2="218.3" y2="318.9" stroke="#c8102e" stroke-width="1"/>
<line x1="234.6" y1="330" x2="234.6" y2="333.2" stroke="#c8102e" stroke-width="1"/>
<line x1="241.9" y1="330" x2="241.9" y2="333.2" stroke="#c8102e" stroke-width="1"/>
<line x1="174.9" y1="330.5" x2="174.9" y2="333.7" stroke="#1b5791" stroke-width="1"/>
<line x1="185.8" y1="334.4" x2="185.8" y2="337.6" stroke="#1b5791" stroke-width="1"/>
<line x1="197.6" y1="343.7" x2="197.6" y2="346.9" stroke="#1b5791" stroke-width="1"/>
<line x1="200" y1="343.7" x2="200" y2="346.9" stroke="#1b5791" stroke-width="1"/>
<line x1="208" y1="343.7" x2="208" y2="346.9" stroke="#1b5791" stroke-width="1"/>
<line x1="57.6" y1="245.3" x2="57.6" y2="366.35" stroke="#000" stroke-width="1.4"/>
<line x1="56.95" y1="365.7" x2="242.6" y2="365.7" stroke="#000" stroke-width="1.4"/>
<line x1="54.4" y1="250.4" x2="57.6" y2="250.4" stroke="#000" stroke-width="1"/>
<text x="51.1" y="252.3" font-size="7" fill="#231f20" text-anchor="end" font-weight="normal" textLength="12.3" lengthAdjust="spacingAndGlyphs" stroke="#231f20" stroke-width="0.17">1.00</text>
<line x1="54.4" y1="277.83" x2="57.6" y2="277.83" stroke="#000" stroke-width="1"/>
<text x="51.1" y="279.73" font-size="7" fill="#231f20" text-anchor="end" font-weight="normal" textLength="13" lengthAdjust="spacingAndGlyphs" stroke="#231f20" stroke-width="0.17">0.75</text>
<line x1="54.4" y1="305.25" x2="57.6" y2="305.25" stroke="#000" stroke-width="1"/>
<text x="51.1" y="307.15" font-size="7" fill="#231f20" text-anchor="end" font-weight="normal" textLength="13" lengthAdjust="spacingAndGlyphs" stroke="#231f20" stroke-width="0.17">0.50</text>
<line x1="54.4" y1="332.68" x2="57.6" y2="332.68" stroke="#000" stroke-width="1"/>
<text x="51.1" y="334.57" font-size="7" fill="#231f20" text-anchor="end" font-weight="normal" textLength="13" lengthAdjust="spacingAndGlyphs" stroke="#231f20" stroke-width="0.17">0.25</text>
<line x1="54.4" y1="360.1" x2="57.6" y2="360.1" stroke="#000" stroke-width="1"/>
<text x="51.1" y="362" font-size="7" fill="#231f20" text-anchor="end" font-weight="normal" textLength="13" lengthAdjust="spacingAndGlyphs" stroke="#231f20" stroke-width="0.17">0.00</text>
<line x1="65.8" y1="365.7" x2="65.8" y2="369.1" stroke="#000" stroke-width="1"/>
<text x="65.8" y="377.9" font-size="7" fill="#231f20" text-anchor="middle" font-weight="normal" stroke="#231f20" stroke-width="0.17">0</text>
<line x1="99.5" y1="365.7" x2="99.5" y2="369.1" stroke="#000" stroke-width="1"/>
<text x="99.5" y="377.9" font-size="7" fill="#231f20" text-anchor="middle" font-weight="normal" textLength="10.3" lengthAdjust="spacingAndGlyphs" stroke="#231f20" stroke-width="0.17">100</text>
<line x1="133.4" y1="365.7" x2="133.4" y2="369.1" stroke="#000" stroke-width="1"/>
<text x="133.4" y="377.9" font-size="7" fill="#231f20" text-anchor="middle" font-weight="normal" textLength="10.3" lengthAdjust="spacingAndGlyphs" stroke="#231f20" stroke-width="0.17">200</text>
<line x1="167.1" y1="365.7" x2="167.1" y2="369.1" stroke="#000" stroke-width="1"/>
<text x="167.1" y="377.9" font-size="7" fill="#231f20" text-anchor="middle" font-weight="normal" textLength="10.3" lengthAdjust="spacingAndGlyphs" stroke="#231f20" stroke-width="0.17">300</text>
<line x1="200.8" y1="365.7" x2="200.8" y2="369.1" stroke="#000" stroke-width="1"/>
<text x="200.8" y="377.9" font-size="7" fill="#231f20" text-anchor="middle" font-weight="normal" textLength="10.3" lengthAdjust="spacingAndGlyphs" stroke="#231f20" stroke-width="0.17">400</text>
<line x1="235.8" y1="365.7" x2="235.8" y2="369.1" stroke="#000" stroke-width="1"/>
<text x="235.8" y="377.9" font-size="7" fill="#231f20" text-anchor="middle" font-weight="normal" textLength="10.3" lengthAdjust="spacingAndGlyphs" stroke="#231f20" stroke-width="0.17">500</text>
<text transform="translate(33,305.2) rotate(-90)" font-size="9.3" fill="#231f20" text-anchor="middle" textLength="49.5" lengthAdjust="spacingAndGlyphs">Overall survival</text>
<text x="150" y="389.5" font-size="9.3" fill="#231f20" text-anchor="middle" font-weight="normal" textLength="35.3" lengthAdjust="spacingAndGlyphs" stroke="#231f20" stroke-width="0.17">Time (days)</text>
<rect x="145.3" y="241.6" width="96.2" height="32" fill="#fff" stroke="#000" stroke-width="1.1"/>
<line x1="145.3" y1="252.5" x2="241.5" y2="252.5" stroke="#000" stroke-width="1.1"/>
<line x1="145.3" y1="262.7" x2="241.5" y2="262.7" stroke="#000" stroke-width="1.1"/>
<line x1="186.5" y1="241.6" x2="186.5" y2="273.6" stroke="#000" stroke-width="1.1"/>
<text x="214" y="249.2" font-size="5.9" fill="#111" text-anchor="middle" font-weight="normal" textLength="49.3" lengthAdjust="spacingAndGlyphs" stroke="#111" stroke-width="0.14">Median OS (95%CI)</text>
<text x="165.9" y="259.75" font-size="5.9" fill="#c8102e" text-anchor="middle" font-weight="normal" textLength="29.9" lengthAdjust="spacingAndGlyphs" stroke="#c8102e" stroke-width="0.14">No Bridging</text>
<text x="214" y="259.75" font-size="5.9" fill="#111" text-anchor="middle" font-weight="normal" textLength="48.1" lengthAdjust="spacingAndGlyphs" stroke="#111" stroke-width="0.14">290 days (183-483)</text>
<text x="165.9" y="270.3" font-size="5.9" fill="#1b5791" text-anchor="middle" font-weight="normal" textLength="21.7" lengthAdjust="spacingAndGlyphs" stroke="#1b5791" stroke-width="0.14">Bridging</text>
<text x="214" y="270.3" font-size="5.9" fill="#111" text-anchor="middle" font-weight="normal" textLength="42.1" lengthAdjust="spacingAndGlyphs" stroke="#111" stroke-width="0.14">98 days (61-176)</text>
<text x="57.7" y="401.6" font-size="6.8" fill="#231f20" text-anchor="start" font-weight="normal" textLength="44.6" lengthAdjust="spacingAndGlyphs" stroke="#231f20" stroke-width="0.17">Number at risk</text>
<text x="51" y="412.2" font-size="7" fill="#c8102e" text-anchor="end" font-weight="normal" textLength="36.8" lengthAdjust="spacingAndGlyphs" stroke="#c8102e" stroke-width="0.17">No Bridging</text>
<text x="51" y="422.8" font-size="7" fill="#1b5791" text-anchor="end" font-weight="normal" textLength="26" lengthAdjust="spacingAndGlyphs" stroke="#1b5791" stroke-width="0.17">Bridging</text>
<text x="65.8" y="412.2" font-size="7" fill="#231f20" text-anchor="middle" font-weight="normal" textLength="7.4" lengthAdjust="spacingAndGlyphs" stroke="#231f20" stroke-width="0.17">57</text>
<text x="65.8" y="422.8" font-size="7" fill="#231f20" text-anchor="middle" font-weight="normal" textLength="7.4" lengthAdjust="spacingAndGlyphs" stroke="#231f20" stroke-width="0.17">79</text>
<text x="99.5" y="412.2" font-size="7" fill="#231f20" text-anchor="middle" font-weight="normal" textLength="7.4" lengthAdjust="spacingAndGlyphs" stroke="#231f20" stroke-width="0.17">38</text>
<text x="99.5" y="422.8" font-size="7" fill="#231f20" text-anchor="middle" font-weight="normal" textLength="7.4" lengthAdjust="spacingAndGlyphs" stroke="#231f20" stroke-width="0.17">35</text>
<text x="133.4" y="412.2" font-size="7" fill="#231f20" text-anchor="middle" font-weight="normal" textLength="7.4" lengthAdjust="spacingAndGlyphs" stroke="#231f20" stroke-width="0.17">29</text>
<text x="133.4" y="422.8" font-size="7" fill="#231f20" text-anchor="middle" font-weight="normal" textLength="7.4" lengthAdjust="spacingAndGlyphs" stroke="#231f20" stroke-width="0.17">20</text>
<text x="167.1" y="412.2" font-size="7" fill="#231f20" text-anchor="middle" font-weight="normal" textLength="7.4" lengthAdjust="spacingAndGlyphs" stroke="#231f20" stroke-width="0.17">16</text>
<text x="167.1" y="422.8" font-size="7" fill="#231f20" text-anchor="middle" font-weight="normal" stroke="#231f20" stroke-width="0.17">8</text>
<text x="200.8" y="412.2" font-size="7" fill="#231f20" text-anchor="middle" font-weight="normal" stroke="#231f20" stroke-width="0.17">6</text>
<text x="200.8" y="422.8" font-size="7" fill="#231f20" text-anchor="middle" font-weight="normal" stroke="#231f20" stroke-width="0.17">1</text>
<text x="235.8" y="412.2" font-size="7" fill="#231f20" text-anchor="middle" font-weight="normal" stroke="#231f20" stroke-width="0.17">2</text>
<text x="235.8" y="422.8" font-size="7" fill="#231f20" text-anchor="middle" font-weight="normal" stroke="#231f20" stroke-width="0.17">0</text>
<text x="265.6" y="235.1" font-size="12.3" fill="#000" text-anchor="start" font-weight="bold">D</text>
<polygon points="331.2,250.4 332.6,250.4 332.6,252 334,252 335.2,252 335.2,253.8 336.4,253.8 337.8,253.8 337.8,254.3 339.2,254.3 340.6,254.3 340.6,255.7 342,255.7 344.05,255.7 344.05,257.8 346.1,257.8 347.15,257.8 347.15,259.55 349.25,259.55 349.25,261.3 350.3,261.3 351.15,261.3 351.15,262.5 352,262.5 354.3,262.5 354.3,265 356.6,265 358.45,265 358.45,267.5 362.15,267.5 362.15,270 364,270 365.85,270 365.85,272.35 369.55,272.35 369.55,274.7 371.4,274.7 372.8,274.7 372.8,276.55 375.6,276.55 375.6,278.4 377,278.4 381,278.4 381,281.2 385,281.2 386.6,281.2 386.6,283.85 389.8,283.85 389.8,286.5 391.4,286.5 393.55,286.5 393.55,287.4 395.7,287.4 397.88,287.4 397.88,289.8 402.22,289.8 402.22,292.2 404.4,292.2 405.6,292.2 405.6,293 406.8,293 409.02,293 409.02,295.45 413.48,295.45 413.48,297.9 415.7,297.9 417.85,297.9 417.85,299 420,299 424.35,299 424.35,301.1 428.7,301.1 441,301.3 441.1,306.2 443.8,306.2 443.8,308.9 453.8,308.9 453.8,315.1 493.8,315.1 493.8,317.2 500.5,317.2 500.5,358.3 493.8,358.3 493.8,340.3 444,340.3 444,336 441,336 441,327.1 428.7,327.1 428.7,323.8 423.05,323.8 423.05,322.2 417.4,322.2 414.95,322.2 414.95,319 412.5,319 410.88,319 410.88,316.95 407.62,316.95 407.62,314.9 406,314.9 401.95,314.9 401.95,312.5 397.9,312.5 396.27,312.5 396.27,310.85 393.02,310.85 393.02,309.2 391.4,309.2 389.8,309.2 389.8,306.8 386.6,306.8 386.6,304.4 385,304.4 383.48,304.4 383.48,302.55 380.42,302.55 380.42,300.7 378.9,300.7 377.02,300.7 377.02,297.95 373.27,297.95 373.27,295.2 371.4,295.2 369.87,295.2 369.87,293.03 366.8,293.03 366.8,290.87 363.73,290.87 363.73,288.7 362.2,288.7 360.95,288.7 360.95,286.53 358.45,286.53 358.45,284.37 355.95,284.37 355.95,282.2 354.7,282.2 353.35,282.2 353.35,280.1 352,280.1 351.23,280.1 351.23,278 349.67,278 349.67,275.9 348.9,275.9 348.2,275.9 348.2,274.15 346.8,274.15 346.8,272.4 346.1,272.4 345.4,272.4 345.4,269.95 344,269.95 344,267.5 343.3,267.5 342.45,267.5 342.45,265.4 340.75,265.4 340.75,263.3 339.9,263.3 339.02,263.3 339.02,261.25 337.27,261.25 337.27,259.2 336.4,259.2 335.93,259.2 335.93,257.33 335,257.33 335,255.47 334.07,255.47 334.07,253.6 333.6,253.6 332.4,253.6 332.4,250.4 331.2,250.4" fill="#f0c5bf" stroke="none"/>
<polygon points="331.2,250.4 331.6,250.4 331.6,252.4 332.4,252.4 332.4,254.4 333.2,254.4 333.2,256.4 333.6,256.4 333.78,256.4 333.78,258.65 334.12,258.65 334.12,260.9 334.48,260.9 334.48,263.15 334.82,263.15 334.82,265.4 335,265.4 335.35,265.4 335.35,267.5 336.05,267.5 336.05,269.6 336.75,269.6 336.75,271.7 337.1,271.7 337.45,271.7 337.45,273.8 338.15,273.8 338.15,275.9 338.85,275.9 338.85,278 339.2,278 339.67,278 339.67,280.1 340.6,280.1 340.6,282.2 341.53,282.2 341.53,284.3 342,284.3 342.57,284.3 342.57,286.17 343.7,286.17 343.7,288.03 344.83,288.03 344.83,289.9 345.4,289.9 347.15,289.9 347.15,292.6 348.9,292.6 350.45,292.6 350.45,294.7 352,294.7 355.7,295 356.43,295 356.43,296.75 357.88,296.75 357.88,298.5 358.6,298.5 360.9,298.5 360.9,301 365.5,301 365.5,303.5 367.8,303.5 370.12,303.5 370.12,305.5 374.78,305.5 374.78,307.5 377.1,307.5 381.05,307.5 381.05,309 385,309 388.5,309 388.5,311.6 392,311.6 394.32,311.6 394.32,313.45 398.98,313.45 398.98,315.3 401.3,315.3 405,315.3 405,318.1 408.7,318.1 413.05,318.1 413.05,321.4 417.4,321.4 421.2,321.4 421.2,323.8 425,323.8 427,323.8 427,324.3 429,324.3 441,324.3 442.5,324.3 442.5,327.1 444,327.1 507.5,327.1 507.5,352.1 444,352.1 444,350.7 425,350.7 421.2,350.7 421.2,350 417.4,350 414.95,350 414.95,348.2 412.5,348.2 406,348.2 406,345 399.5,345 394.6,345 394.6,343.3 389.7,343.3 384.35,343.3 384.35,340.3 379,340.3 374.35,340.3 374.35,337.5 369.7,337.5 366,337.5 366,334.8 362.3,334.8 360.43,334.8 360.43,332.45 356.68,332.45 356.68,330.1 354.8,330.1 353.88,330.1 353.88,328.07 352.05,328.07 352.05,326.03 350.22,326.03 350.22,324 349.3,324 348.75,324 348.75,321.67 347.65,321.67 347.65,319.33 346.55,319.33 346.55,317 346,317 345.5,317 345.5,314.77 344.5,314.77 344.5,312.55 343.5,312.55 343.5,310.33 342.5,310.33 342.5,308.1 342,308.1 341.77,308.1 341.77,305.73 341.3,305.73 341.3,303.37 340.83,303.37 340.83,301 340.6,301 340.25,301 340.25,298.67 339.55,298.67 339.55,296.33 338.85,296.33 338.85,294 338.5,294 338.24,294 338.24,291.93 337.71,291.93 337.71,289.85 337.19,289.85 337.19,287.77 336.66,287.77 336.66,285.7 336.4,285.7 336.17,285.7 336.17,283.37 335.7,283.37 335.7,281.03 335.23,281.03 335.23,278.7 335,278.7 334.82,278.7 334.82,276.6 334.48,276.6 334.48,274.5 334.12,274.5 334.12,272.4 333.78,272.4 333.78,270.3 333.6,270.3 333.43,270.3 333.43,268.23 333.07,268.23 333.07,266.15 332.73,266.15 332.73,264.07 332.38,264.07 332.38,262 332.2,262 332.11,262 332.11,259.55 331.94,259.55 331.94,257.1 331.76,257.1 331.76,254.65 331.59,254.65 331.59,252.2 331.5,252.2 331.2,250.4" fill="#c4cada" stroke="none"/>
<clipPath id="clp3"><polygon points="331.2,250.4 332.6,250.4 332.6,252 334,252 335.2,252 335.2,253.8 336.4,253.8 337.8,253.8 337.8,254.3 339.2,254.3 340.6,254.3 340.6,255.7 342,255.7 344.05,255.7 344.05,257.8 346.1,257.8 347.15,257.8 347.15,259.55 349.25,259.55 349.25,261.3 350.3,261.3 351.15,261.3 351.15,262.5 352,262.5 354.3,262.5 354.3,265 356.6,265 358.45,265 358.45,267.5 362.15,267.5 362.15,270 364,270 365.85,270 365.85,272.35 369.55,272.35 369.55,274.7 371.4,274.7 372.8,274.7 372.8,276.55 375.6,276.55 375.6,278.4 377,278.4 381,278.4 381,281.2 385,281.2 386.6,281.2 386.6,283.85 389.8,283.85 389.8,286.5 391.4,286.5 393.55,286.5 393.55,287.4 395.7,287.4 397.88,287.4 397.88,289.8 402.22,289.8 402.22,292.2 404.4,292.2 405.6,292.2 405.6,293 406.8,293 409.02,293 409.02,295.45 413.48,295.45 413.48,297.9 415.7,297.9 417.85,297.9 417.85,299 420,299 424.35,299 424.35,301.1 428.7,301.1 441,301.3 441.1,306.2 443.8,306.2 443.8,308.9 453.8,308.9 453.8,315.1 493.8,315.1 493.8,317.2 500.5,317.2 500.5,358.3 493.8,358.3 493.8,340.3 444,340.3 444,336 441,336 441,327.1 428.7,327.1 428.7,323.8 423.05,323.8 423.05,322.2 417.4,322.2 414.95,322.2 414.95,319 412.5,319 410.88,319 410.88,316.95 407.62,316.95 407.62,314.9 406,314.9 401.95,314.9 401.95,312.5 397.9,312.5 396.27,312.5 396.27,310.85 393.02,310.85 393.02,309.2 391.4,309.2 389.8,309.2 389.8,306.8 386.6,306.8 386.6,304.4 385,304.4 383.48,304.4 383.48,302.55 380.42,302.55 380.42,300.7 378.9,300.7 377.02,300.7 377.02,297.95 373.27,297.95 373.27,295.2 371.4,295.2 369.87,295.2 369.87,293.03 366.8,293.03 366.8,290.87 363.73,290.87 363.73,288.7 362.2,288.7 360.95,288.7 360.95,286.53 358.45,286.53 358.45,284.37 355.95,284.37 355.95,282.2 354.7,282.2 353.35,282.2 353.35,280.1 352,280.1 351.23,280.1 351.23,278 349.67,278 349.67,275.9 348.9,275.9 348.2,275.9 348.2,274.15 346.8,274.15 346.8,272.4 346.1,272.4 345.4,272.4 345.4,269.95 344,269.95 344,267.5 343.3,267.5 342.45,267.5 342.45,265.4 340.75,265.4 340.75,263.3 339.9,263.3 339.02,263.3 339.02,261.25 337.27,261.25 337.27,259.2 336.4,259.2 335.93,259.2 335.93,257.33 335,257.33 335,255.47 334.07,255.47 334.07,253.6 333.6,253.6 332.4,253.6 332.4,250.4 331.2,250.4"/></clipPath>
<polygon points="331.2,250.4 331.6,250.4 331.6,252.4 332.4,252.4 332.4,254.4 333.2,254.4 333.2,256.4 333.6,256.4 333.78,256.4 333.78,258.65 334.12,258.65 334.12,260.9 334.48,260.9 334.48,263.15 334.82,263.15 334.82,265.4 335,265.4 335.35,265.4 335.35,267.5 336.05,267.5 336.05,269.6 336.75,269.6 336.75,271.7 337.1,271.7 337.45,271.7 337.45,273.8 338.15,273.8 338.15,275.9 338.85,275.9 338.85,278 339.2,278 339.67,278 339.67,280.1 340.6,280.1 340.6,282.2 341.53,282.2 341.53,284.3 342,284.3 342.57,284.3 342.57,286.17 343.7,286.17 343.7,288.03 344.83,288.03 344.83,289.9 345.4,289.9 347.15,289.9 347.15,292.6 348.9,292.6 350.45,292.6 350.45,294.7 352,294.7 355.7,295 356.43,295 356.43,296.75 357.88,296.75 357.88,298.5 358.6,298.5 360.9,298.5 360.9,301 365.5,301 365.5,303.5 367.8,303.5 370.12,303.5 370.12,305.5 374.78,305.5 374.78,307.5 377.1,307.5 381.05,307.5 381.05,309 385,309 388.5,309 388.5,311.6 392,311.6 394.32,311.6 394.32,313.45 398.98,313.45 398.98,315.3 401.3,315.3 405,315.3 405,318.1 408.7,318.1 413.05,318.1 413.05,321.4 417.4,321.4 421.2,321.4 421.2,323.8 425,323.8 427,323.8 427,324.3 429,324.3 441,324.3 442.5,324.3 442.5,327.1 444,327.1 507.5,327.1 507.5,352.1 444,352.1 444,350.7 425,350.7 421.2,350.7 421.2,350 417.4,350 414.95,350 414.95,348.2 412.5,348.2 406,348.2 406,345 399.5,345 394.6,345 394.6,343.3 389.7,343.3 384.35,343.3 384.35,340.3 379,340.3 374.35,340.3 374.35,337.5 369.7,337.5 366,337.5 366,334.8 362.3,334.8 360.43,334.8 360.43,332.45 356.68,332.45 356.68,330.1 354.8,330.1 353.88,330.1 353.88,328.07 352.05,328.07 352.05,326.03 350.22,326.03 350.22,324 349.3,324 348.75,324 348.75,321.67 347.65,321.67 347.65,319.33 346.55,319.33 346.55,317 346,317 345.5,317 345.5,314.77 344.5,314.77 344.5,312.55 343.5,312.55 343.5,310.33 342.5,310.33 342.5,308.1 342,308.1 341.77,308.1 341.77,305.73 341.3,305.73 341.3,303.37 340.83,303.37 340.83,301 340.6,301 340.25,301 340.25,298.67 339.55,298.67 339.55,296.33 338.85,296.33 338.85,294 338.5,294 338.24,294 338.24,291.93 337.71,291.93 337.71,289.85 337.19,289.85 337.19,287.77 336.66,287.77 336.66,285.7 336.4,285.7 336.17,285.7 336.17,283.37 335.7,283.37 335.7,281.03 335.23,281.03 335.23,278.7 335,278.7 334.82,278.7 334.82,276.6 334.48,276.6 334.48,274.5 334.12,274.5 334.12,272.4 333.78,272.4 333.78,270.3 333.6,270.3 333.43,270.3 333.43,268.23 333.07,268.23 333.07,266.15 332.73,266.15 332.73,264.07 332.38,264.07 332.38,262 332.2,262 332.11,262 332.11,259.55 331.94,259.55 331.94,257.1 331.76,257.1 331.76,254.65 331.59,254.65 331.59,252.2 331.5,252.2 331.2,250.4" fill="#baabad" clip-path="url(#clp3)"/>
<polyline points="331.2,250.4 331.9,250.4 332.85,250.4 332.85,252.35 334.75,252.35 334.75,254.3 335.7,254.3 336.4,254.3 336.4,256.05 337.8,256.05 337.8,257.8 338.5,257.8 341.3,258 342.3,258 342.3,259.6 343.3,259.6 344,259.6 344,261.45 345.4,261.45 345.4,263.3 346.1,263.3 346.8,263.3 346.8,265.4 348.2,265.4 348.2,267.5 348.9,267.5 349.67,267.5 349.67,269.25 351.23,269.25 351.23,271 352,271 352.9,271 353.82,271 353.82,272.85 355.68,272.85 355.68,274.7 356.6,274.7 357.75,274.7 357.75,277.05 360.05,277.05 360.05,279.4 361.2,279.4 362.38,279.4 362.38,281.25 364.72,281.25 364.72,283.1 365.9,283.1 368.2,283.1 368.2,284 370.5,284 372.85,284 372.85,286.8 375.2,286.8 376.35,286.8 376.35,288.65 378.65,288.65 378.65,290.5 379.8,290.5 382.15,290.5 382.15,292.1 384.5,292.1 389.7,292.2 390.52,292.2 390.52,294.2 392.18,294.2 392.18,296.2 393,296.2 395.45,296.2 395.45,297.9 397.9,297.9 401.15,297.9 401.15,299.5 404.4,299.5 404.8,299.5 404.8,301.55 405.6,301.55 405.6,303.6 406,303.6 409.25,303.6 409.25,306 412.5,306 415.75,306 415.75,307.6 419,307.6 422.25,307.6 422.25,310 425.5,310 426.3,310 426.3,311.65 427.9,311.65 427.9,313.3 428.7,313.3 440.9,313.3 441,313.3 441,315.27 441.2,315.27 441.2,317.23 441.4,317.23 441.4,319.2 441.5,319.2 442.65,319.2 442.65,322.3 443.8,322.3 453.8,322.3 453.88,322.3 453.88,324.6 454.05,324.6 454.05,326.9 454.22,326.9 454.22,329.2 454.3,329.2 493.8,329.2 494,344.8 501,344.8" fill="none" stroke="#c8102e" stroke-width="1.25" stroke-linejoin="miter"/>
<polyline points="331.2,250.4 331.9,250.4 332.07,250.4 332.07,252.4 332.4,252.4 332.4,254.4 332.73,254.4 332.73,256.4 332.9,256.4 333.02,256.4 333.02,258.7 333.25,258.7 333.25,261 333.48,261 333.48,263.3 333.6,263.3 333.78,263.3 333.78,265.4 334.12,265.4 334.12,267.5 334.48,267.5 334.48,269.6 334.82,269.6 334.82,271.7 335,271.7 335.23,271.7 335.23,273.57 335.7,273.57 335.7,275.43 336.17,275.43 336.17,277.3 336.4,277.3 336.75,277.3 336.75,279.17 337.45,279.17 337.45,281.03 338.15,281.03 338.15,282.9 338.5,282.9 338.85,282.9 338.85,284.77 339.55,284.77 339.55,286.63 340.25,286.63 340.25,288.5 340.6,288.5 340.95,288.5 340.95,290.55 341.65,290.55 341.65,292.6 342,292.6 342.5,292.6 342.5,294.7 343.5,294.7 343.5,296.8 344,296.8 344.52,296.8 344.52,298.9 345.58,298.9 345.58,301 346.1,301 346.62,301 346.62,303.1 347.68,303.1 347.68,305.2 348.2,305.2 349.15,305.2 349.15,306.9 351.05,306.9 351.05,308.6 352,308.6 352.45,308.6 352.45,309.1 352.9,309.1 355.2,309.1 355.2,311.9 357.5,311.9 359.85,311.9 359.85,314.7 362.2,314.7 363.57,314.7 363.57,316.55 366.32,316.55 366.32,318.4 367.7,318.4 368.43,318.4 368.43,320.4 369.88,320.4 369.88,322.4 370.6,322.4 373.85,322.4 373.85,323.6 377.1,323.6 377.6,323.6 377.6,326 378.1,326 395.7,326 396.8,326 396.8,328.7 397.9,328.7 400.32,328.7 400.32,330.35 405.18,330.35 405.18,332 407.6,332 409.23,332 409.23,333.6 412.48,333.6 412.48,335.2 414.1,335.2 414.9,335.2 414.9,338 415.7,338 443.3,338 443.5,341.3 507.7,341.3" fill="none" stroke="#1b5791" stroke-width="1.25" stroke-linejoin="miter"/>
<path d="M329.8 249.8H333M331.4 248.2V251.4" stroke="#1b5791" stroke-width="1.1" fill="none"/>
<line x1="440.3" y1="311.7" x2="440.3" y2="314.9" stroke="#c8102e" stroke-width="1"/>
<line x1="452.3" y1="320.7" x2="452.3" y2="323.9" stroke="#c8102e" stroke-width="1"/>
<line x1="458.5" y1="327.6" x2="458.5" y2="330.8" stroke="#c8102e" stroke-width="1"/>
<line x1="462.3" y1="327.6" x2="462.3" y2="330.8" stroke="#c8102e" stroke-width="1"/>
<line x1="465.1" y1="327.6" x2="465.1" y2="330.8" stroke="#c8102e" stroke-width="1"/>
<line x1="467.7" y1="327.6" x2="467.7" y2="330.8" stroke="#c8102e" stroke-width="1"/>
<line x1="470" y1="327.6" x2="470" y2="330.8" stroke="#c8102e" stroke-width="1"/>
<line x1="473.8" y1="327.6" x2="473.8" y2="330.8" stroke="#c8102e" stroke-width="1"/>
<line x1="483.8" y1="327.6" x2="483.8" y2="330.8" stroke="#c8102e" stroke-width="1"/>
<line x1="500" y1="343.2" x2="500" y2="346.4" stroke="#c8102e" stroke-width="1"/>
<line x1="444.6" y1="339.7" x2="444.6" y2="342.9" stroke="#1b5791" stroke-width="1"/>
<line x1="449.2" y1="339.7" x2="449.2" y2="342.9" stroke="#1b5791" stroke-width="1"/>
<line x1="451.5" y1="339.7" x2="451.5" y2="342.9" stroke="#1b5791" stroke-width="1"/>
<line x1="453" y1="339.7" x2="453" y2="342.9" stroke="#1b5791" stroke-width="1"/>
<line x1="464.6" y1="339.7" x2="464.6" y2="342.9" stroke="#1b5791" stroke-width="1"/>
<line x1="467.7" y1="339.7" x2="467.7" y2="342.9" stroke="#1b5791" stroke-width="1"/>
<line x1="506.9" y1="339.7" x2="506.9" y2="342.9" stroke="#1b5791" stroke-width="1"/>
<line x1="322.8" y1="245" x2="322.8" y2="366.45" stroke="#000" stroke-width="1.4"/>
<line x1="322.15" y1="365.8" x2="508.2" y2="365.8" stroke="#000" stroke-width="1.4"/>
<line x1="319.6" y1="250.4" x2="322.8" y2="250.4" stroke="#000" stroke-width="1"/>
<text x="316.3" y="252.3" font-size="7" fill="#231f20" text-anchor="end" font-weight="normal" textLength="12.3" lengthAdjust="spacingAndGlyphs" stroke="#231f20" stroke-width="0.17">1.00</text>
<line x1="319.6" y1="277.83" x2="322.8" y2="277.83" stroke="#000" stroke-width="1"/>
<text x="316.3" y="279.73" font-size="7" fill="#231f20" text-anchor="end" font-weight="normal" textLength="13" lengthAdjust="spacingAndGlyphs" stroke="#231f20" stroke-width="0.17">0.75</text>
<line x1="319.6" y1="305.25" x2="322.8" y2="305.25" stroke="#000" stroke-width="1"/>
<text x="316.3" y="307.15" font-size="7" fill="#231f20" text-anchor="end" font-weight="normal" textLength="13" lengthAdjust="spacingAndGlyphs" stroke="#231f20" stroke-width="0.17">0.50</text>
<line x1="319.6" y1="332.68" x2="322.8" y2="332.68" stroke="#000" stroke-width="1"/>
<text x="316.3" y="334.57" font-size="7" fill="#231f20" text-anchor="end" font-weight="normal" textLength="13" lengthAdjust="spacingAndGlyphs" stroke="#231f20" stroke-width="0.17">0.25</text>
<line x1="319.6" y1="360.1" x2="322.8" y2="360.1" stroke="#000" stroke-width="1"/>
<text x="316.3" y="362" font-size="7" fill="#231f20" text-anchor="end" font-weight="normal" textLength="13" lengthAdjust="spacingAndGlyphs" stroke="#231f20" stroke-width="0.17">0.00</text>
<line x1="331.1" y1="365.8" x2="331.1" y2="369.2" stroke="#000" stroke-width="1"/>
<text x="331.1" y="377.8" font-size="7" fill="#231f20" text-anchor="middle" font-weight="normal" stroke="#231f20" stroke-width="0.17">0</text>
<line x1="364.86" y1="365.8" x2="364.86" y2="369.2" stroke="#000" stroke-width="1"/>
<text x="364.86" y="377.8" font-size="7" fill="#231f20" text-anchor="middle" font-weight="normal" textLength="10.3" lengthAdjust="spacingAndGlyphs" stroke="#231f20" stroke-width="0.17">100</text>
<line x1="398.62" y1="365.8" x2="398.62" y2="369.2" stroke="#000" stroke-width="1"/>
<text x="398.62" y="377.8" font-size="7" fill="#231f20" text-anchor="middle" font-weight="normal" textLength="10.3" lengthAdjust="spacingAndGlyphs" stroke="#231f20" stroke-width="0.17">200</text>
<line x1="432.38" y1="365.8" x2="432.38" y2="369.2" stroke="#000" stroke-width="1"/>
<text x="432.38" y="377.8" font-size="7" fill="#231f20" text-anchor="middle" font-weight="normal" textLength="10.3" lengthAdjust="spacingAndGlyphs" stroke="#231f20" stroke-width="0.17">300</text>
<line x1="466.14" y1="365.8" x2="466.14" y2="369.2" stroke="#000" stroke-width="1"/>
<text x="466.14" y="377.8" font-size="7" fill="#231f20" text-anchor="middle" font-weight="normal" textLength="10.3" lengthAdjust="spacingAndGlyphs" stroke="#231f20" stroke-width="0.17">400</text>
<line x1="499.9" y1="365.8" x2="499.9" y2="369.2" stroke="#000" stroke-width="1"/>
<text x="499.9" y="377.8" font-size="7" fill="#231f20" text-anchor="middle" font-weight="normal" textLength="10.3" lengthAdjust="spacingAndGlyphs" stroke="#231f20" stroke-width="0.17">500</text>
<text transform="translate(298,305.6) rotate(-90)" font-size="9.3" fill="#231f20" text-anchor="middle" textLength="50" lengthAdjust="spacingAndGlyphs">Overall survival</text>
<text x="415.5" y="389.5" font-size="9.3" fill="#231f20" text-anchor="middle" font-weight="normal" textLength="35.3" lengthAdjust="spacingAndGlyphs" stroke="#231f20" stroke-width="0.17">Time (days)</text>
<rect x="412.4" y="240.5" width="96.35" height="32" fill="#fff" stroke="#000" stroke-width="1.1"/>
<line x1="412.4" y1="251.4" x2="508.75" y2="251.4" stroke="#000" stroke-width="1.1"/>
<line x1="412.4" y1="262.5" x2="508.75" y2="262.5" stroke="#000" stroke-width="1.1"/>
<line x1="455" y1="240.5" x2="455" y2="272.5" stroke="#000" stroke-width="1.1"/>
<text x="481.88" y="248.1" font-size="5.9" fill="#111" text-anchor="middle" font-weight="normal" textLength="49.4" lengthAdjust="spacingAndGlyphs" stroke="#111" stroke-width="0.14">Median OS (95%CI)</text>
<text x="433.7" y="259.1" font-size="5.9" fill="#c8102e" text-anchor="middle" font-weight="normal" textLength="34.9" lengthAdjust="spacingAndGlyphs" stroke="#c8102e" stroke-width="0.14">Axi-cel CR/PR</text>
<text x="481.88" y="259.1" font-size="5.9" fill="#111" text-anchor="middle" font-weight="normal" textLength="47.5" lengthAdjust="spacingAndGlyphs" stroke="#111" stroke-width="0.14">240 days (156-326)</text>
<text x="433.7" y="269.65" font-size="5.9" fill="#1b5791" text-anchor="middle" font-weight="normal" textLength="35.4" lengthAdjust="spacingAndGlyphs" stroke="#1b5791" stroke-width="0.14">Axi-cel SD/PD</text>
<text x="481.88" y="269.65" font-size="5.9" fill="#111" text-anchor="middle" font-weight="normal" textLength="41.3" lengthAdjust="spacingAndGlyphs" stroke="#111" stroke-width="0.14">51 days (27-114)</text>
<text x="322.5" y="400.6" font-size="6.8" fill="#231f20" text-anchor="start" font-weight="normal" textLength="44.6" lengthAdjust="spacingAndGlyphs" stroke="#231f20" stroke-width="0.17">Number at risk</text>
<text x="316.2" y="411.3" font-size="7" fill="#c8102e" text-anchor="end" font-weight="normal" textLength="42" lengthAdjust="spacingAndGlyphs" stroke="#c8102e" stroke-width="0.17">Axi-cel CR/PR</text>
<text x="316.2" y="421.8" font-size="7" fill="#1b5791" text-anchor="end" font-weight="normal" textLength="42.5" lengthAdjust="spacingAndGlyphs" stroke="#1b5791" stroke-width="0.17">Axi-cel SD/PD</text>
<text x="331.1" y="411.3" font-size="7" fill="#231f20" text-anchor="middle" font-weight="normal" textLength="7.4" lengthAdjust="spacingAndGlyphs" stroke="#231f20" stroke-width="0.17">91</text>
<text x="331.1" y="421.8" font-size="7" fill="#231f20" text-anchor="middle" font-weight="normal" textLength="7.4" lengthAdjust="spacingAndGlyphs" stroke="#231f20" stroke-width="0.17">46</text>
<text x="364.86" y="411.3" font-size="7" fill="#231f20" text-anchor="middle" font-weight="normal" textLength="7.4" lengthAdjust="spacingAndGlyphs" stroke="#231f20" stroke-width="0.17">57</text>
<text x="364.86" y="421.8" font-size="7" fill="#231f20" text-anchor="middle" font-weight="normal" textLength="7.4" lengthAdjust="spacingAndGlyphs" stroke="#231f20" stroke-width="0.17">17</text>
<text x="398.62" y="411.3" font-size="7" fill="#231f20" text-anchor="middle" font-weight="normal" textLength="7.4" lengthAdjust="spacingAndGlyphs" stroke="#231f20" stroke-width="0.17">39</text>
<text x="398.62" y="421.8" font-size="7" fill="#231f20" text-anchor="middle" font-weight="normal" textLength="7.4" lengthAdjust="spacingAndGlyphs" stroke="#231f20" stroke-width="0.17">11</text>
<text x="432.38" y="411.3" font-size="7" fill="#231f20" text-anchor="middle" font-weight="normal" textLength="7.4" lengthAdjust="spacingAndGlyphs" stroke="#231f20" stroke-width="0.17">17</text>
<text x="432.38" y="421.8" font-size="7" fill="#231f20" text-anchor="middle" font-weight="normal" stroke="#231f20" stroke-width="0.17">8</text>
<text x="466.14" y="411.3" font-size="7" fill="#231f20" text-anchor="middle" font-weight="normal" stroke="#231f20" stroke-width="0.17">5</text>
<text x="466.14" y="421.8" font-size="7" fill="#231f20" text-anchor="middle" font-weight="normal" stroke="#231f20" stroke-width="0.17">2</text>
<text x="499.9" y="411.3" font-size="7" fill="#231f20" text-anchor="middle" font-weight="normal" stroke="#231f20" stroke-width="0.17">1</text>
<text x="499.9" y="421.8" font-size="7" fill="#231f20" text-anchor="middle" font-weight="normal" stroke="#231f20" stroke-width="0.17">1</text>
</g>
<rect x="0" y="0" width="520" height="1.05" fill="#000"/>
<rect x="0" y="0" width="1.15" height="431" fill="#000"/>
<rect x="518.8" y="0" width="1.2" height="431" fill="#000"/>
<rect x="0" y="429.3" width="520" height="1.7" fill="#000"/>
</svg>
</div></body></html>
